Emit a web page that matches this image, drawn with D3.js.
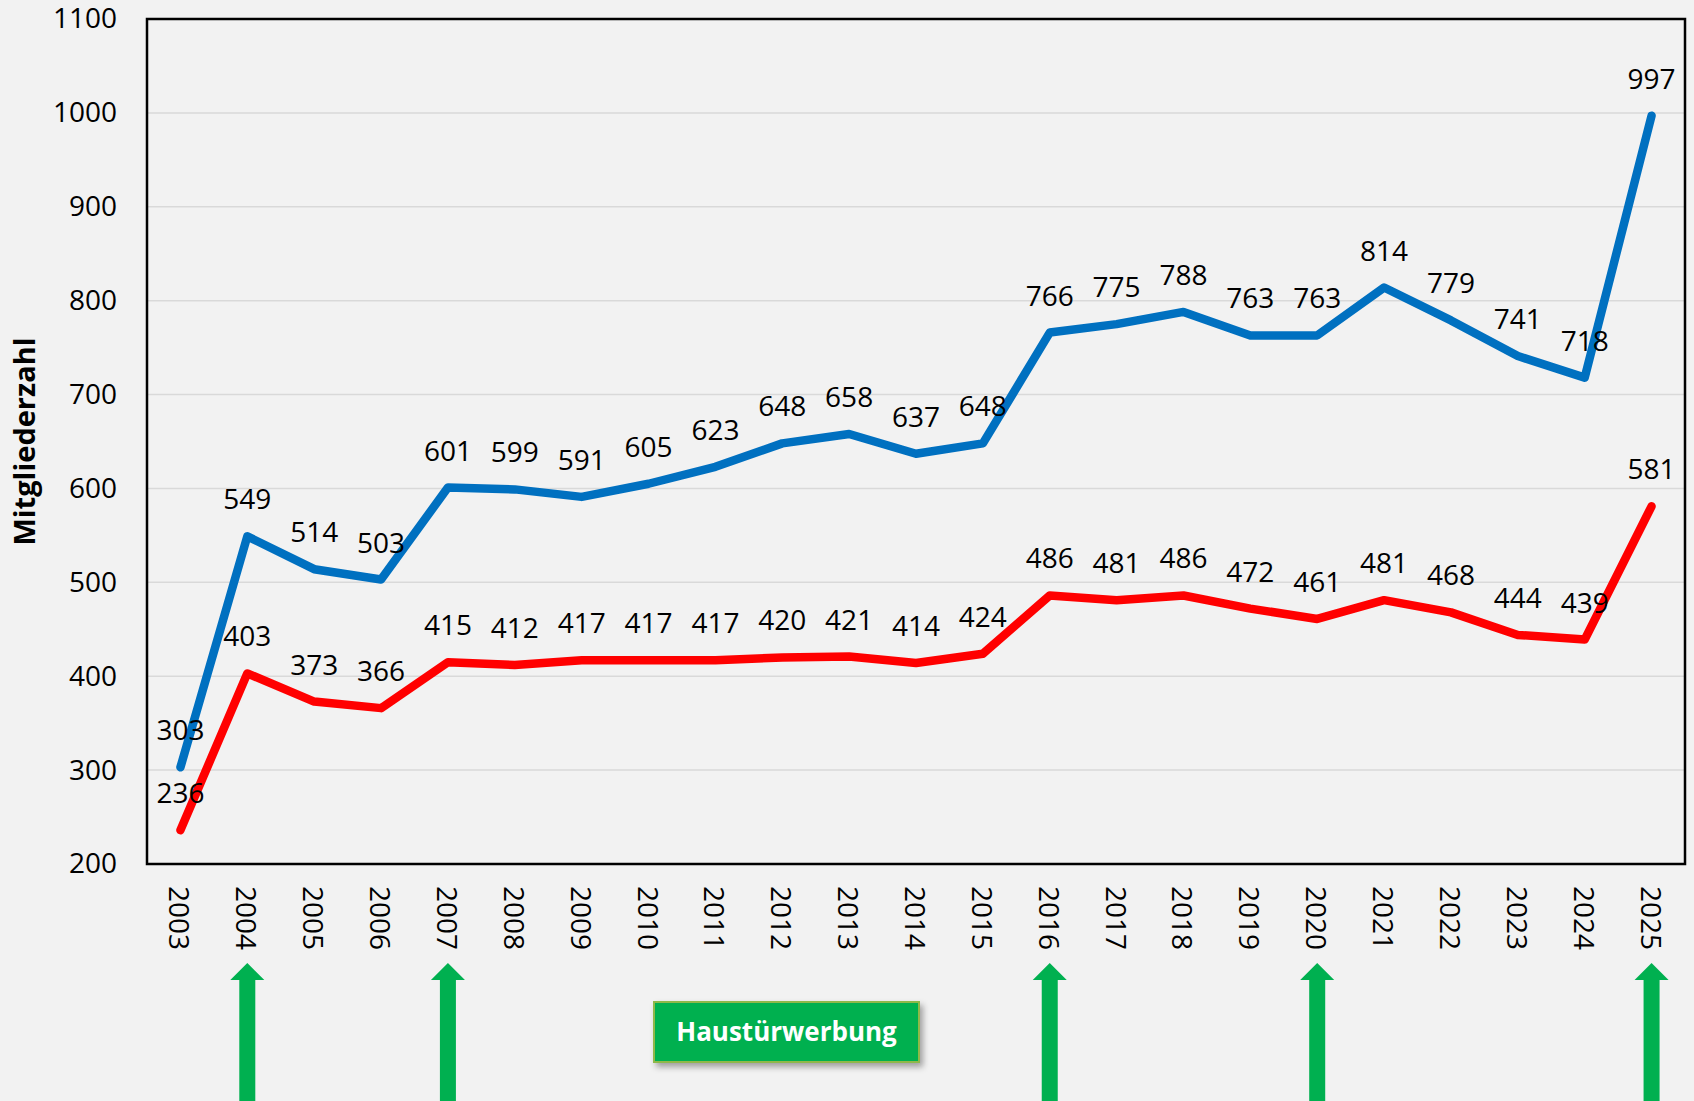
<!DOCTYPE html>
<html>
<head>
<meta charset="utf-8">
<script src="https://cdn.jsdelivr.net/npm/d3@7"></script>
<style>
  html, body { margin: 0; padding: 0; background: #f2f2f2; }
  svg { display: block; font-family: "Open Sans", sans-serif; }
</style>
</head>
<body>
<svg width="1694" height="1101"></svg>
<script>
// values
var years = [2003, 2004, 2005, 2006, 2007, 2008, 2009, 2010, 2011, 2012, 2013, 2014,
  2015, 2016, 2017, 2018, 2019, 2020, 2021, 2022, 2023, 2024, 2025];
var blueVals = [303, 549, 514, 503, 601, 599, 591, 605, 623, 648, 658, 637,
  648, 766, 775, 788, 763, 763, 814, 779, 741, 718, 997];
var redVals = [236, 403, 373, 366, 415, 412, 417, 417, 417, 420, 421, 414,
  424, 486, 481, 486, 472, 461, 481, 468, 444, 439, 581];
var yTicks = [200, 300, 400, 500, 600, 700, 800, 900, 1000, 1100];
var arrowYears = [2004, 2007, 2016, 2020, 2025];
var yTitle = "Mitgliederzahl";
var boxText = "Haustürwerbung";

var svg = d3.select("svg");
var pLeft = 147, pTop = 19, pRight = 1685, pBottom = 864;

var x = d3.scaleBand()
  .domain(years)
  .range([pLeft, pRight]);
var cx = d => x(d) + x.bandwidth() / 2;

var y = d3.scaleLinear()
  .domain([200, 1100])
  .range([pBottom, pTop]);

// shadow for the green box
var defs = svg.append("defs");
var f = defs.append("filter").attr("id", "shadow")
  .attr("x", "-10%").attr("y", "-20%").attr("width", "130%").attr("height", "160%");
f.append("feDropShadow").attr("dx", 3).attr("dy", 4).attr("stdDeviation", 3)
  .attr("flood-color", "#000").attr("flood-opacity", 0.35);

// gridlines
svg.append("g")
  .selectAll("line")
  .data(yTicks.slice(1, -1))
  .enter()
  .append("line")
  .attr("x1", pLeft).attr("x2", pRight)
  .attr("y1", d => y(d)).attr("y2", d => y(d))
  .attr("stroke", "#d9d9d9")
  .attr("stroke-width", 1.5);

// y axis labels
var yAxis = d3.axisLeft(y).tickValues(yTicks).tickFormat(d3.format("d"))
  .tickSize(0).tickPadding(30);
var gy = svg.append("g").attr("transform", "translate(" + pLeft + ",0)").call(yAxis);
gy.select(".domain").remove();
gy.selectAll("text")
  .attr("font-size", 28)
  .attr("font-family", "Open Sans")
  .attr("fill", "#000");

// x axis labels (rotated)
var xAxis = d3.axisBottom(x).tickSize(0).tickPadding(0);
var gx = svg.append("g").attr("transform", "translate(0," + pBottom + ")").call(xAxis);
gx.select(".domain").remove();
gx.selectAll("text")
  .attr("font-size", 28)
  .attr("font-family", "Open Sans")
  .attr("fill", "#000")
  .attr("text-anchor", "start")
  .attr("dy", null)
  .attr("y", 0)
  .attr("dominant-baseline", "central")
  .attr("transform", "translate(0,22) rotate(90)");

// frame
svg.append("rect")
  .attr("x", pLeft).attr("y", pTop)
  .attr("width", pRight - pLeft).attr("height", pBottom - pTop)
  .attr("fill", "none")
  .attr("stroke", "#000")
  .attr("stroke-width", 2.5);

// y title
svg.append("text")
  .attr("transform", "translate(35," + (pTop + pBottom) / 2 + ") rotate(-90)")
  .attr("text-anchor", "middle")
  .attr("font-size", 29)
  .attr("font-weight", "bold")
  .attr("fill", "#000")
  .text(yTitle);

var line = d3.line()
  .x((d, i) => cx(years[i]))
  .y(d => y(d));

var series = [
  { vals: blueVals, color: "#0070c0" },
  { vals: redVals, color: "#ff0000" }
];

series.forEach(s => {
  svg.append("path")
    .datum(s.vals)
    .attr("d", line)
    .attr("fill", "none")
    .attr("stroke", s.color)
    .attr("stroke-width", 8.5)
    .attr("stroke-linecap", "round")
    .attr("stroke-linejoin", "round");
});

// data labels, above the points
series.forEach(s => {
  svg.append("g")
    .selectAll("text")
    .data(s.vals)
    .enter()
    .append("text")
    .attr("x", (d, i) => cx(years[i]))
    .attr("y", d => y(d) - 27)
    .attr("text-anchor", "middle")
    .attr("font-size", 28)
    .attr("fill", "#000")
    .text(d => d);
});

// green arrows
var tipY = 963, headY = 980, headW = 17, shaftW = 8, endY = 1101;
svg.append("g")
  .selectAll("path")
  .data(arrowYears)
  .enter()
  .append("path")
  .attr("d", d => {
    var c = cx(d);
    return "M" + c + "," + tipY +
      "L" + (c + headW) + "," + headY +
      "L" + (c + shaftW) + "," + headY +
      "L" + (c + shaftW) + "," + endY +
      "L" + (c - shaftW) + "," + endY +
      "L" + (c - shaftW) + "," + headY +
      "L" + (c - headW) + "," + headY + "Z";
  })
  .attr("fill", "#00b050");

// label box
var bx = 654, by = 1002, bw = 265, bh = 60;
svg.append("rect")
  .attr("x", bx).attr("y", by)
  .attr("width", bw).attr("height", bh)
  .attr("fill", "#00b050")
  .attr("stroke", "#8fb84a")
  .attr("stroke-width", 2)
  .attr("filter", "url(#shadow)");
svg.append("text")
  .attr("x", bx + bw / 2)
  .attr("y", by + bh / 2 + 9)
  .attr("text-anchor", "middle")
  .attr("font-size", 26)
  .attr("font-weight", "bold")
  .attr("fill", "#fff")
  .text(boxText);
</script>
</body>
</html>
